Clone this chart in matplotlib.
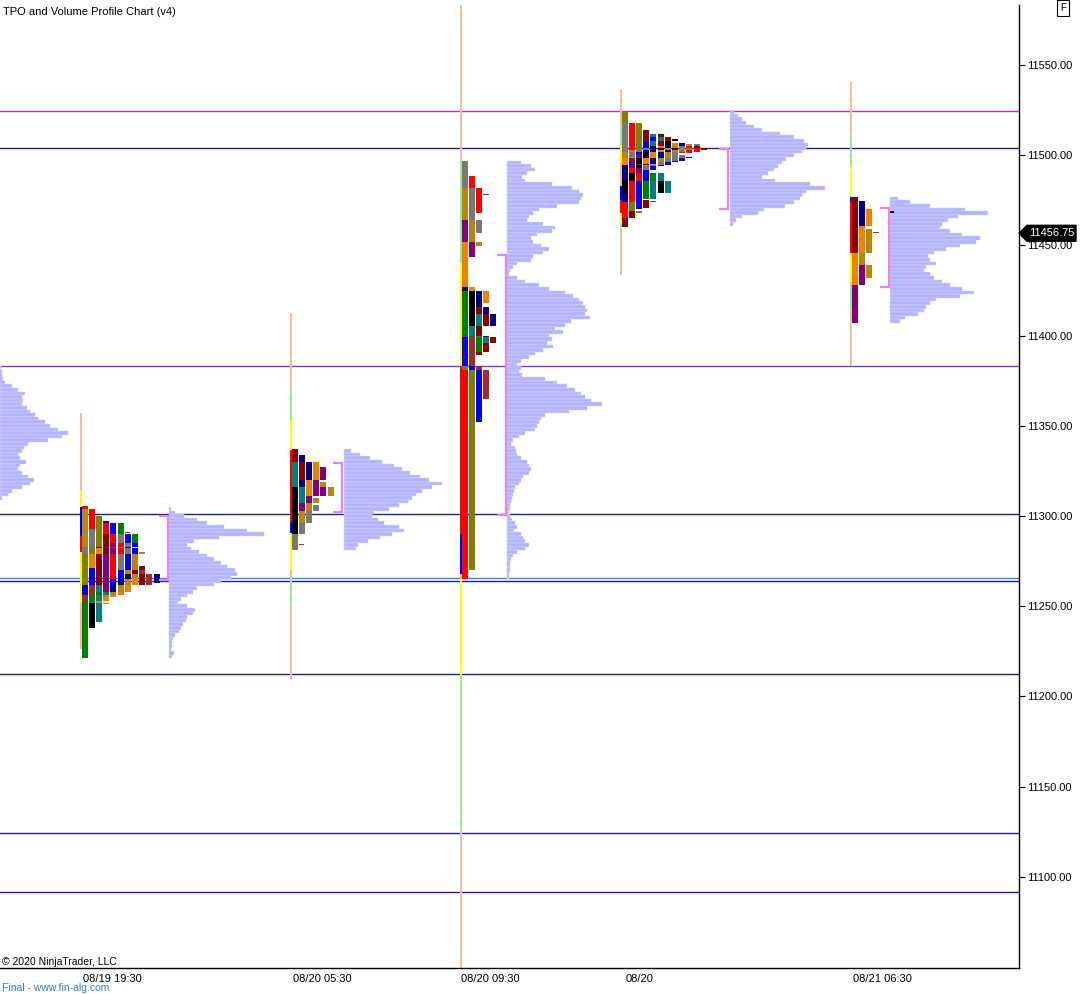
import numpy as np
import matplotlib
matplotlib.use('Agg')
import matplotlib.pyplot as plt
from matplotlib.patches import Polygon

plt.rcParams['font.family'] = ['Liberation Sans', 'DejaVu Sans']

PAL = {'r': '#ff0000', 'dr': '#8b0000', 'br': '#a52a2a', 'ol': '#808000', 'dg': '#b8860b',
       'gy': '#787878', 'bl': '#0000ff', 'nv': '#000080', 'gn': '#008000', 'tl': '#008080',
       'bk': '#000000', 'or': '#f08000', 'pu': '#800080', 'tk': '#b22222',
       'y': '#ffff00', 'lg': '#98e898', 'pe': '#f5bc9a'}

# ---------------- axes / labels ----------------
X_TICK_POS = [112, 322, 490, 640, 882]
X_TICK_LABELS = ['08/19 19:30', '08/20 05:30', '08/20 09:30', '08/20', '08/21 06:30']
Y_TICKS = [11100, 11150, 11200, 11250, 11300, 11350, 11400, 11450, 11500, 11550]
Y_MIN, Y_MAX = 11049.4, 11583.3
LAST_PRICE = 11456.75

# ---------------- horizontal levels ----------------
LEVEL_PRICES = [11524.5, 11504.0, 11383.1, 11301.1, 11265.6, 11264.0, 11212.4, 11124.3, 11091.6]
LEVEL_COLORS = ['#c8329b', '#1c1ca0', '#7a3cc0', '#1c1ca0', '#3a90a8', '#1c1ca0',
                '#1c1ca0', '#1c1ca0', '#1c1ca0']

# ---------------- TPO periods (low, high, colour) ----------------
S1_LOW = [11283, 11293, 11279, 11262, 11271, 11256, 11262, 11253, 11221, 11238, 11241, 11258,
          11265, 11270, 11262, 11258, 11255, 11251, 11262, 11285, 11262, 11263, 11290.5]
S1_HIGH = [11304, 11305.5, 11293, 11300, 11282, 11271, 11290, 11262, 11258, 11252, 11262, 11285,
           11296, 11290, 11297, 11268, 11280, 11265, 11272, 11296, 11270, 11268, 11291]
S1_COL = ['dg', 'r', 'gy', 'ol', 'or', 'bl', 'dr', 'br', 'gn', 'bk', 'tl', 'pu',
          'r', 'gy', 'bl', 'nv', 'dg', 'or', 'dr', 'gn', 'br', 'nv', 'tk']

S2_LOW = [11330, 11330, 11316, 11320, 11290, 11316, 11307, 11311, 11281, 11303, 11296, 11296,
          11311, 11311, 11284]
S2_HIGH = [11337, 11334, 11330, 11330, 11316, 11330, 11316, 11330, 11296, 11327, 11310, 11306,
           11316, 11319, 11284.5]
S2_COL = ['dr', 'nv', 'tl', 'dr', 'bk', 'nv', 'tl', 'or', 'gy', 'pu', 'dg', 'gy', 'pu', 'dg', 'tk']

S3_LOW = [11265, 11270, 11352, 11365, 11391, 11405.5, 11396, 11389, 11405.5, 11418, 11443.5,
          11449.5, 11457, 11468, 11478]
S3_HIGH = [11381, 11383, 11399, 11400, 11425, 11425, 11412, 11416, 11427, 11452, 11464,
           11482, 11497, 11488.5, 11478.5]
S3_COL = ['r', 'ol', 'bl', 'br', 'gn', 'bk', 'tl', 'dr', 'nv', 'or', 'pu', 'dg', 'gy', 'r', 'tk']

S4_LOW = [11518, 11502, 11503, 11503, 11498.5, 11499, 11508, 11494.5, 11500, 11486, 11479, 11505,
          11474, 11465, 11460, 11505, 11468, 11490, 11470, 11471, 11493, 11476, 11476, 11494,
          11495, 11479, 11496, 11479, 11497, 11501, 11474, 11503, 11501, 11492, 11492]
S4_HIGH = [11524, 11518, 11518, 11518, 11503, 11504, 11514, 11499, 11510, 11495, 11490, 11512,
           11479, 11493, 11469, 11512, 11474, 11500, 11492, 11475, 11509, 11490, 11490, 11507,
           11507, 11486, 11506, 11486, 11506, 11505, 11474.5, 11505, 11503, 11500, 11499]
S4_COL = ['ol', 'gy', 'r', 'ol', 'dg', 'gy', 'dr', 'or', 'bl', 'nv', 'bk', 'tl',
          'nv', 'r', 'dr', 'dr', 'ol', 'pu', 'bl', 'dr', 'bk', 'gn', 'tl', 'or',
          'nv', 'bk', 'dg', 'tl', 'gy', 'r', 'tk', 'dr', 'r', 'gy', 'bl']

S5_LOW = [11445.8, 11460.7, 11428, 11407, 11432, 11457]
S5_HIGH = [11477, 11474.6, 11470, 11439, 11459, 11457.5]
S5_COL = ['dr', 'nv', 'or', 'pu', 'dg', 'tk']

TPO_LOWS = [S1_LOW, S2_LOW, S3_LOW, S4_LOW, S5_LOW]
TPO_HIGHS = [S1_HIGH, S2_HIGH, S3_HIGH, S4_HIGH, S5_HIGH]
TPO_COLS = [S1_COL, S2_COL, S3_COL, S4_COL, S5_COL]

# session start lines (x position of each session)
SESSION_X = [80.8, 290.8, 460.8, 620.8, 850.8]
LINE_LOW = [11226, 11209, 11049.4, 11433.6, 11383]
LINE_HIGH = [11357, 11412.5, 11583.3, 11537, 11540.6]
LINE_SEGS = [
    [(11305, 11314, 'y'), (11289, 11305, 'bl'), (11280, 11289, 'r'), (11252, 11280, 'y')],
    [(11353, 11370, 'lg'), (11336.6, 11353, 'y'), (11296, 11336.6, 'r'), (11290.6, 11296, 'bl'),
     (11270, 11290.6, 'y'), (11251, 11264, 'lg')],
    [(11440, 11497, 'lg'), (11383, 11440, 'y'), (11290, 11383, 'r'), (11268, 11290, 'bl'),
     (11212, 11265, 'y'), (11127, 11212, 'lg')],
    [(11505.7, 11515.8, 'lg'), (11496.4, 11505.7, 'y'), (11475, 11483, 'bl'), (11468, 11475, 'r'),
     (11462, 11468, 'y'), (11458, 11462, 'lg')],
    [(11493.5, 11509.5, 'lg'), (11477, 11493.5, 'y'), (11474, 11477, 'bl'), (11446, 11474, 'r'),
     (11430, 11446, 'y'), (11415, 11430, 'lg')],
]

# ---------------- volume profiles (2-point rows, top price then volumes downward) ----------------
VP0_TOP = 11382
VP0 = [1, 2, 2, 3, 5, 12, 18, 25, 22, 23, 22, 27, 30, 35, 38, 45, 50, 58, 68, 62, 48, 28, 24,
       22, 18, 20, 26, 20, 18, 22, 28, 34, 30, 22, 12, 8, 2]
VP1_TOP = 11304
VP1 = [2, 6, 15, 28, 38, 55, 78, 95, 50, 25, 18, 22, 30, 38, 45, 52, 58, 66, 68, 62, 52, 45, 28,
       24, 18, 12, 9, 18, 26, 24, 18, 17, 14, 12, 10, 6, 4, 3, 3, 2, 5, 3]
VP2_TOP = 11336
VP2 = [7, 16, 26, 38, 50, 58, 66, 76, 85, 98, 88, 78, 72, 68, 64, 55, 45, 30, 28, 34, 40, 55, 60,
       48, 36, 24, 14, 12]
VP3_TOP = 11496
VP3 = [14, 24, 28, 20, 15, 18, 45, 65, 72, 76, 74, 72, 50, 32, 26, 22, 20, 36, 48, 45, 30, 24, 26,
       34, 42, 36, 26, 24, 10, 6, 3, 2, 10, 18, 32, 42, 58, 66, 72, 76, 78, 80, 78, 83, 64, 58, 48,
       56, 42, 45, 40, 46, 36, 28, 22, 14, 10,
       14, 12, 15, 38, 50, 60, 68, 74, 78, 84, 95, 80, 62, 38, 34, 32, 30, 28, 18, 12, 6, 4, 8, 9,
       10, 14, 20, 22, 24, 22, 16, 14, 12, 8, 7, 6, 5, 4, 3, 3, 2, 3, 5, 8, 10, 7, 14, 16, 18, 22,
       18, 10, 6, 4, 3, 3, 3, 2, 2]
VP4_TOP = 11524
VP4 = [4, 8, 12, 16, 24, 32, 50, 64, 74, 78, 76, 72, 64, 56, 52, 48, 44, 38, 32, 45, 80, 95, 76,
       72, 70, 64, 55, 34, 28, 12, 6, 3]
VP5_TOP = 11476
VP5 = [8, 20, 40, 75, 98, 68, 58, 52, 50, 60, 72, 90, 86, 70, 56, 44, 38, 40, 46, 36, 34, 40, 44,
       52, 60, 72, 84, 70, 46, 40, 36, 34, 28, 15, 10]
VP_TOPS = [VP0_TOP, VP1_TOP, VP2_TOP, VP3_TOP, VP4_TOP, VP5_TOP]
VP_VALS = [VP0, VP1, VP2, VP3, VP4, VP5]
VP_X = [0, 169, 344, 507, 730, 890]

# value-area brackets
VA_HIGH = [11300, 11329.6, 11444.7, 11503.4, 11471]
VA_LOW = [11264.5, 11302.4, 11300.6, 11470, 11427]
VA_X = [168, 342, 506, 728, 889]

LAST_MARK_PRICE = 11468.5

# ---------------- figure ----------------
fig = plt.figure(figsize=(10.88, 9.94), dpi=100)
ax = fig.add_axes([0, 26 / 994, 1019 / 1088, 963 / 994])
ax.set_xlim(0, 1019)
ax.set_ylim(Y_MIN, Y_MAX)

# horizontal levels
for p, c in zip(LEVEL_PRICES, LEVEL_COLORS):
    ax.axhline(p, color=c, lw=1.0, zorder=1)

COL_PITCH = 7.2
COL_W = 6.0


def tpo_rects(lows, highs, step=0.5):
    lo, hi = min(lows), max(highs)
    levels = np.arange(lo, hi, step)
    assign = []
    for c in levels:
        mid = c + step / 2
        assign.append([i for i, (l, h) in enumerate(zip(lows, highs)) if l <= mid < h])
    maxc = max(len(a) for a in assign)
    rects = []
    for k in range(maxc):
        start, cur = None, None
        for j, a in enumerate(assign):
            p = a[k] if k < len(a) else None
            if p != cur:
                if cur is not None:
                    rects.append((k, levels[start], levels[j - 1] + step, cur))
                start, cur = j, p
        if cur is not None:
            rects.append((k, levels[start], levels[-1] + step, cur))
    return rects


# session lines
for sx, lo, hi, segs in zip(SESSION_X, LINE_LOW, LINE_HIGH, LINE_SEGS):
    ax.bar(sx, hi - lo, bottom=lo, width=1.8, color=PAL['pe'], linewidth=0, zorder=2)
    for (a, b, c) in segs:
        ax.bar(sx, b - a, bottom=a, width=1.8, color=PAL[c], linewidth=0, zorder=3)

# TPO blocks
for sx, lows, highs, cols in zip(SESSION_X, TPO_LOWS, TPO_HIGHS, TPO_COLS):
    for k, b, t, p in tpo_rects(lows, highs):
        w = COL_W if cols[p] != 'tk' else COL_W - 0.5
        ax.bar(sx + 0.9 + k * COL_PITCH, t - b, bottom=b, width=w, align='edge',
               color=PAL[cols[p]], linewidth=0, zorder=4)

# last price marker in latest session
ax.bar(SESSION_X[4] + 0.9 + 5 * COL_PITCH, 1.1, bottom=LAST_MARK_PRICE - 0.55, width=COL_W,
       align='edge', color='black', linewidth=0, zorder=4)

# volume profiles
for top, vals, vx in zip(VP_TOPS, VP_VALS, VP_X):
    prices = top - 2 * np.arange(len(vals))
    ax.barh(prices, vals, left=vx, height=2.0, color='#b4b4fa', edgecolor='#d4d4ff',
            linewidth=0.35, zorder=3)

# value-area brackets
for hi, lo, vx in zip(VA_HIGH, VA_LOW, VA_X):
    ax.plot([vx - 9, vx, vx, vx - 9], [hi, hi, lo, lo], color='#eb82eb', lw=1.6,
            solid_capstyle='butt', solid_joinstyle='miter', zorder=5)

# axes styling
for s in ['left', 'top']:
    ax.spines[s].set_visible(False)
ax.spines['right'].set_linewidth(1.0)
ax.spines['bottom'].set_linewidth(1.0)
ax.yaxis.tick_right()
ax.set_yticks(Y_TICKS)
ax.set_yticklabels(['%.2f' % v for v in Y_TICKS])
ax.tick_params(axis='y', direction='out', length=4, width=0.8, pad=2, labelsize=8)
ax.set_xticks(X_TICK_POS)
ax.set_xticklabels(X_TICK_LABELS)
ax.tick_params(axis='x', length=0, pad=4, labelsize=8)

# last price tag
tr = ax.get_yaxis_transform()
px = 1 / 1019
tag = Polygon([(1.0, LAST_PRICE), (1 + 8 * px, LAST_PRICE + 4.4), (1 + 57 * px, LAST_PRICE + 4.4),
               (1 + 57 * px, LAST_PRICE - 4.4), (1 + 8 * px, LAST_PRICE - 4.4)],
              closed=True, transform=tr, facecolor='black', edgecolor='black', clip_on=False, zorder=6)
ax.add_patch(tag)
ax.text(1 + 33 * px, LAST_PRICE, '%.2f' % LAST_PRICE, transform=tr, color='white', fontsize=8,
        ha='center', va='center', zorder=7, clip_on=False)

# texts
fig.text(3 / 1088, 1 - 12 / 994, 'TPO and Volume Profile Chart (v4)', fontsize=8, va='center', ha='left')
fig.text(2 / 1088, 1 - 962 / 994, '\u00a9 2020 NinjaTrader, LLC', fontsize=7.5, va='center', ha='left')
fig.text(2 / 1088, 1 - 988 / 994, 'Final - www.fin-alg.com', fontsize=7.5, va='center', ha='left',
         color='#2f7fb5')
fig.text(1063 / 1088, 1 - 8 / 994, 'F', fontsize=7, va='center', ha='center',
         bbox=dict(boxstyle='square,pad=0.3', fc='white', ec='black', lw=0.8))

fig.savefig('out.png', dpi=100)
